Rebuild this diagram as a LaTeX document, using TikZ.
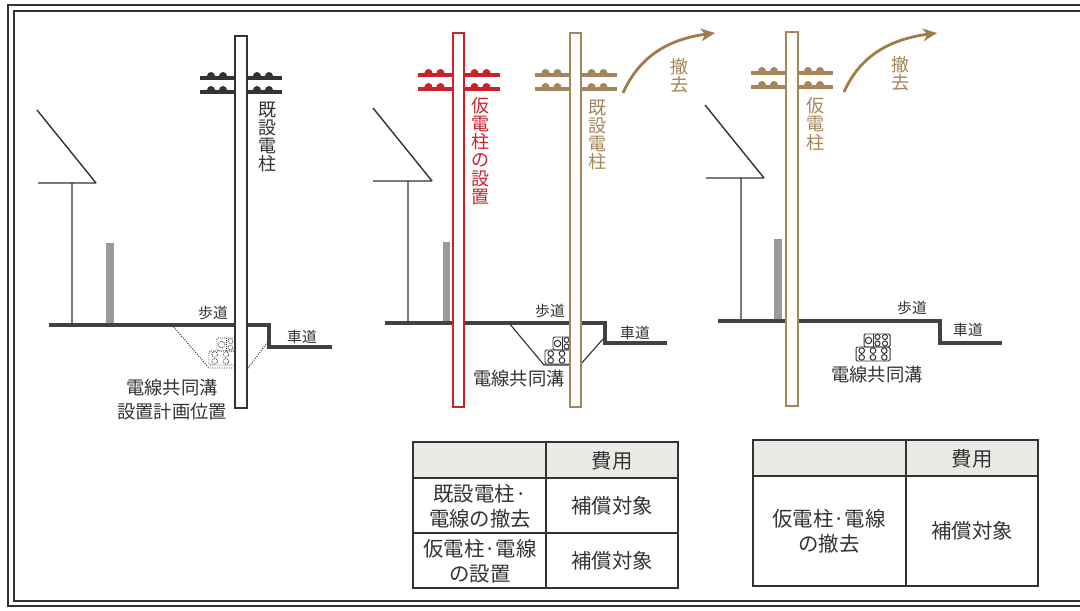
\documentclass[tikz,border=0pt]{standalone}
\usepackage{fontspec}
\setmainfont{Noto Sans CJK JP}
\usetikzlibrary{arrows.meta}

\definecolor{ink}{HTML}{333333}
\definecolor{groundc}{HTML}{414141}
\definecolor{polered}{HTML}{C8232D}
\definecolor{tan}{HTML}{A5855A}
\definecolor{arrowc}{HTML}{A27B4C}
\definecolor{postgray}{HTML}{9A9A9A}
\definecolor{headfill}{HTML}{EAEAE7}

% Two crossarms with insulator bumps: #1 pole centre x, #2 upper bar y, #3 colour
\newcommand{\armset}[3]{%
  \foreach \yy in {#2,#2+14} {%
    \draw[#3, line width=2.8pt] (#1-41,\yy) -- (#1+41,\yy);
    \foreach \dx in {-30,-18,16,28} \fill[#3] (#1+\dx,\yy-2) circle (2.85pt);
  }%
}

% Cable duct bank: #1 left x, #2 bottom y, #3 line style
\newcommand{\ductbank}[3]{%
  \begin{scope}[#3]
    \draw[rounded corners=1pt] (#1,#2) rectangle (#1+34,#2-14);
    \foreach \cx in {5.7,17,28.3} {%
      \draw (#1+\cx,#2-3.6) circle (2pt);
      \draw (#1+\cx,#2-10.4) circle (2pt);
    }
    \draw[rounded corners=1pt] (#1+8,#2-14) rectangle (#1+34,#2-27);
    \draw (#1+17,#2-14) -- (#1+17,#2-27);
    \draw (#1+12.5,#2-20.5) circle (2.3pt);
    \foreach \cx in {21.5,29} {%
      \draw (#1+\cx,#2-17.5) circle (1.8pt);
      \draw (#1+\cx,#2-24) circle (1.8pt);
    }
  \end{scope}%
}

\tikzset{
  house/.style={draw=ink, line width=1pt},
  ground/.style={draw=groundc, line width=2.6pt},
  trench/.style={draw=ink, line width=0.8pt},
  polebox/.style={fill=white, line width=1.1pt},
  vlab/.style={font=\fontsize{12.8}{13}\selectfont, align=center, inner sep=0pt},
  lab/.style={font=\fontsize{13}{17}\selectfont, text=ink, inner sep=0pt},
  roadlab/.style={font=\fontsize{10.5}{12}\selectfont, text=ink, inner sep=0pt},
  cell/.style={font=\fontsize{14.5}{17.8}\selectfont, text=ink, align=center, inner sep=0pt},
  tline/.style={draw=ink, line width=0.9pt},
  remove/.style={draw=arrowc, line width=2pt, -{Stealth[length=10pt, width=9pt, inset=3pt]}}
}

\begin{document}
\begin{tikzpicture}[x=0.025cm, y=-0.025cm]
\useasboundingbox (0,0) rectangle (1080,611);
\clip (0,0) rectangle (1080,611);
\fill[white] (0,0) rectangle (1080,611);

% double frame
\draw[ink, line width=2pt] (8,5) rectangle (1100,606);
\draw[ink, line width=1pt] (14,11) rectangle (1100,601);

% ---------- houses and gate posts ----------
\draw[house] (37,110) -- (96,183) (38,183) -- (96,183) (72,183) -- (72,325);
\draw[house] (373,108) -- (432,181) (373,181) -- (432,181) (408,181) -- (408,323);
\draw[house] (705,105) -- (764,178) (706,178) -- (764,178) (741,178) -- (741,321);
\fill[postgray] (106,243) rectangle (114,325);
\fill[postgray] (443,242) rectangle (450,323);
\fill[postgray] (774,239) rectangle (782,321);

% ---------- sidewalk and roadway ----------
\draw[ground] (49,325) -- (269,325) -- (269,347) -- (332,347);
\draw[ground] (385,323) -- (605,323) -- (605,343) -- (667,343);
\draw[ground] (718,321) -- (940,321) -- (940,343) -- (1002,343);

% ---------- common utility duct ----------
\draw[trench, dash pattern=on 0.7pt off 1pt, line width=0.7pt] (172,325) -- (209,368) -- (248,368) -- (267,343);
\ductbank{209}{365}{draw=ink, line width=0.6pt, dash pattern=on 0.6pt off 0.8pt}
\draw[trench] (509,323) -- (544,365) -- (580,365) -- (603,339);
\ductbank{545}{364}{draw=ink, line width=0.7pt}
\ductbank{856}{361}{draw=ink, line width=0.7pt}

% ---------- crossarms ----------
\armset{241}{78}{ink}
\armset{458.5}{75}{polered}
\armset{575.5}{75}{tan}
\armset{792}{73}{tan}

% ---------- poles ----------
\draw[polebox, draw=ink] (235,36) rectangle (247,408);
\draw[polebox, draw=polered, line width=1.3pt] (453,33) rectangle (464,407);
\draw[polebox, draw=tan] (570,33) rectangle (581,407);
\draw[polebox, draw=tan] (786,32) rectangle (798,406);

% ---------- pole labels ----------
\node[vlab, text=ink] (p1lab) at (267,137) {既\\設\\電\\柱};
\node[vlab, text=polered] (p2lab) at (480,151) {仮\\電\\柱\\の\\設\\置};
\node[vlab, text=tan] (p2olab) at (597,135) {既\\設\\電\\柱};
\node[vlab, text=tan] (p3lab) at (815,124) {仮\\電\\柱};

% ---------- removal arrows ----------
\coordinate (r2s) at (623,93);
\coordinate (r2e) at (715,33);
\draw[remove] (r2s) .. controls +(17,-38) and +(-45,6) .. (r2e);
\node[vlab, text=tan] (r2lab) at (679,76) {撤\\去};
\coordinate (r3s) at (844,92);
\coordinate (r3e) at (937,33);
\draw[remove] (r3s) .. controls +(17,-38) and +(-45,6) .. (r3e);
\node[vlab, text=tan] (r3lab) at (900,74) {撤\\去};

% ---------- ground labels ----------
\node[roadlab] (walk1) at (213,313) {歩道};
\node[roadlab] (road1) at (302,337) {車道};
\node[roadlab] (walk2) at (550,311) {歩道};
\node[roadlab] (road2) at (635,333) {車道};
\node[roadlab] (walk3) at (912,308) {歩道};
\node[roadlab] (road3) at (968,330) {車道};
\node[lab] (duct1a) at (172,388) {電線共同溝};
\node[lab] (duct1b) at (172,412) {設置計画位置};
\node[lab] (duct2) at (519,379) {電線共同溝};
\node[lab] (duct3) at (877,375) {電線共同溝};

% ---------- cost table (middle) ----------
\fill[headfill] (413,442) rectangle (678,478);
\draw[tline] (413,442) rectangle (678,588);
\draw[tline] (546,442) -- (546,588);
\draw[tline] (413,478) -- (678,478);
\draw[tline] (413,533) -- (678,533);
\node[cell] (t1h) at (612,461) {費用};
\node[cell] (t1a) at (480,506) {既設電柱·\\電線の撤去};
\node[cell] (t1b) at (612,506) {補償対象};
\node[cell] (t1c) at (480,561) {仮電柱·電線\\の設置};
\node[cell] (t1d) at (612,561) {補償対象};

% ---------- cost table (right) ----------
\fill[headfill] (753,440) rectangle (1038,476);
\draw[tline] (753,440) rectangle (1038,586);
\draw[tline] (906,440) -- (906,586);
\draw[tline] (753,476) -- (1038,476);
\node[cell] (t2h) at (972,459) {費用};
\node[cell] (t2a) at (829,531) {仮電柱·電線\\の撤去};
\node[cell] (t2b) at (972,531) {補償対象};
\end{tikzpicture}
\end{document}
